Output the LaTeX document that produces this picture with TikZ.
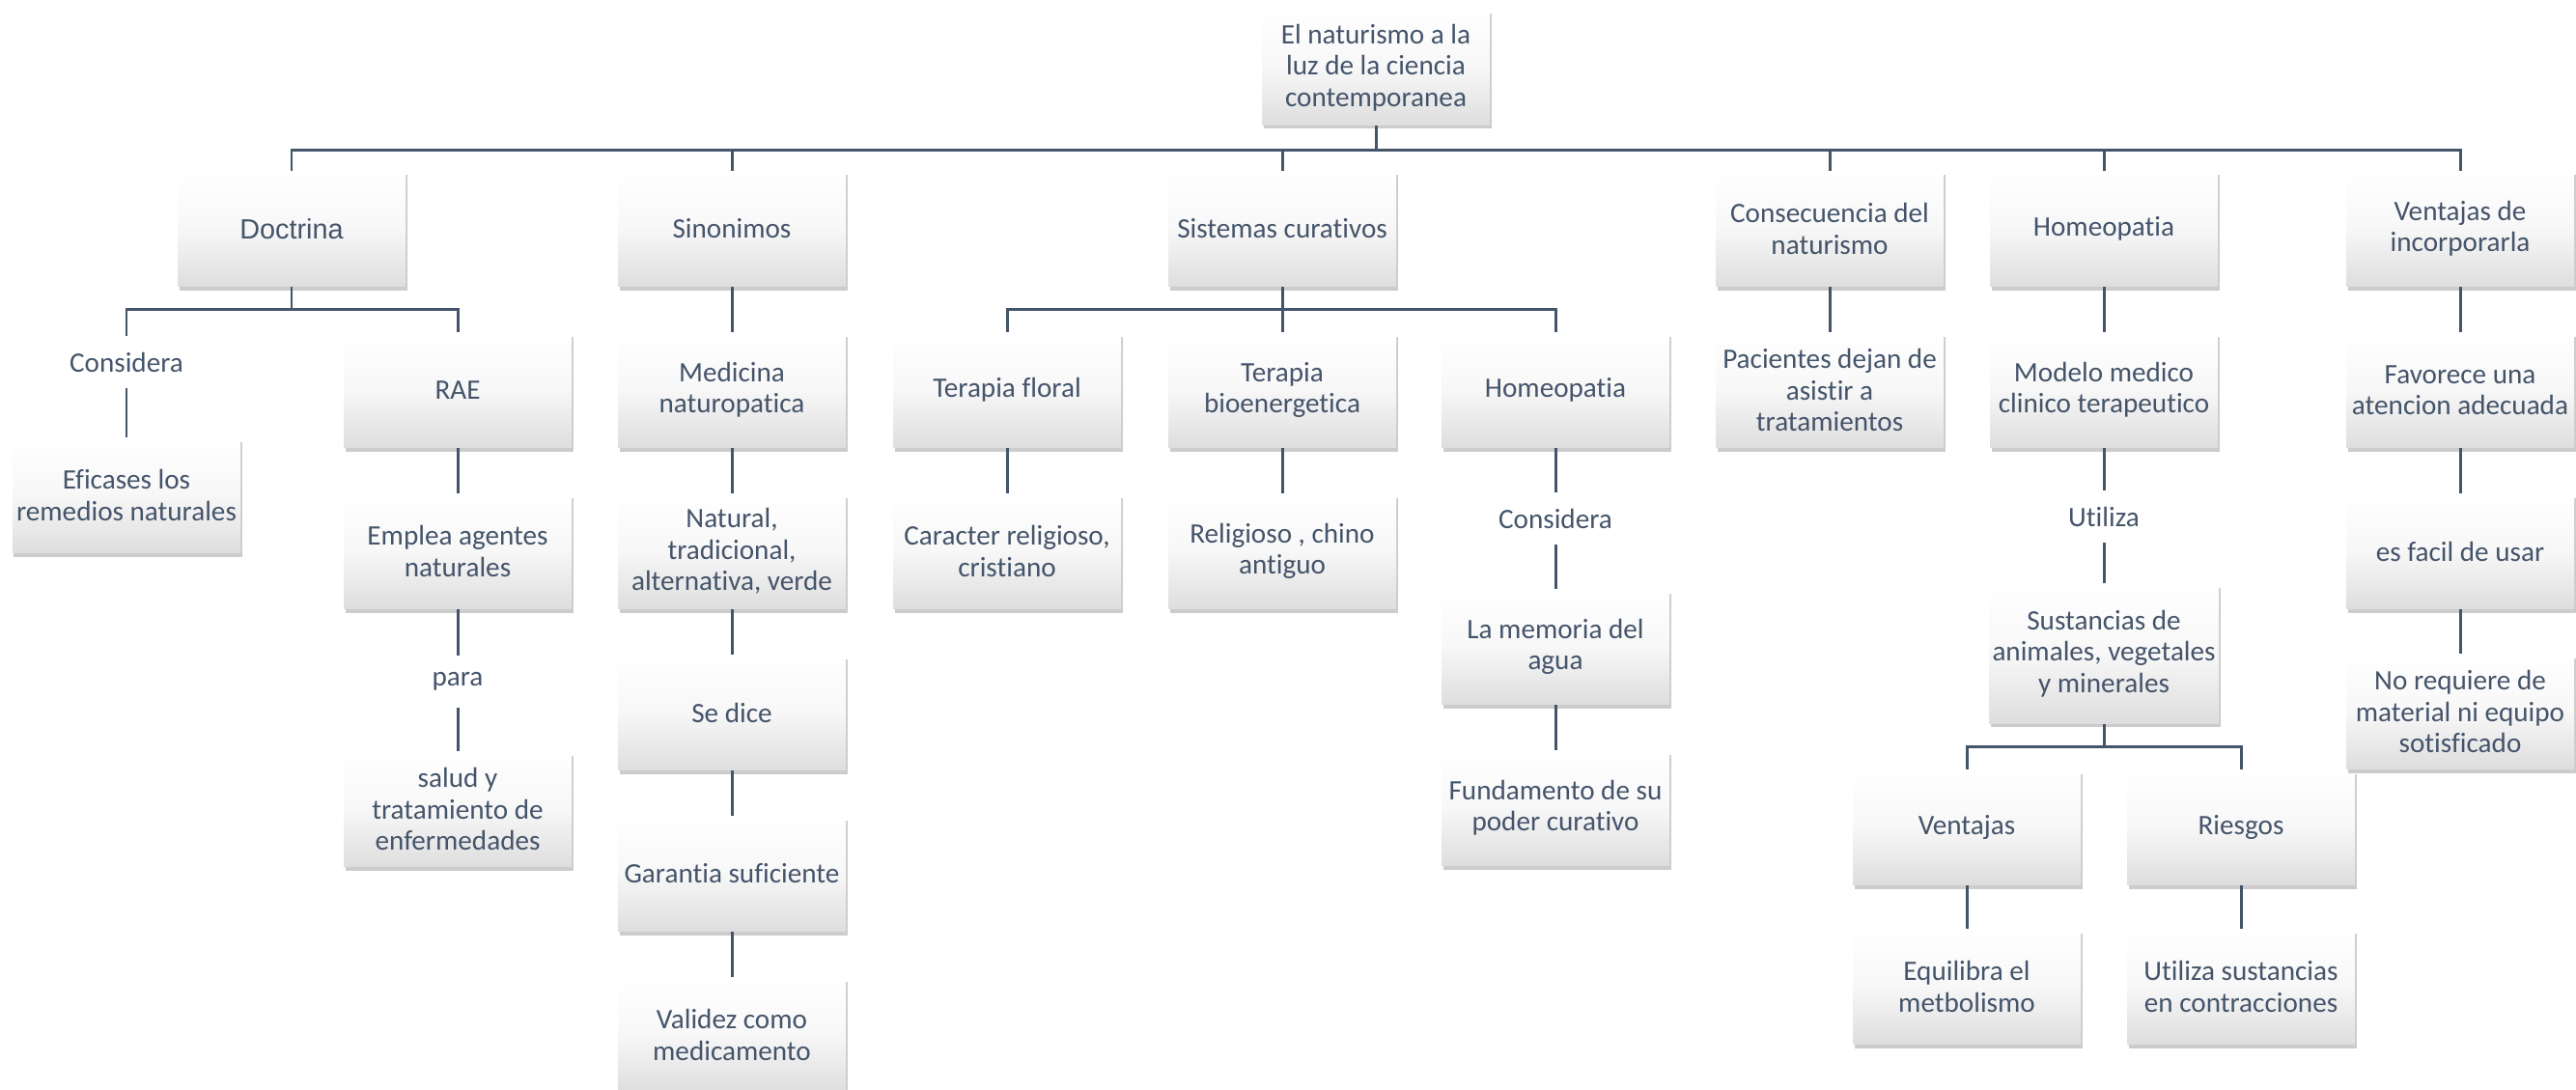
\documentclass[tikz,border=0pt]{standalone}
\usepackage{fontspec}
\setmainfont{Carlito}[Ligatures=NoCommon]
\newfontfamily\arialfont{Liberation Sans}
\usetikzlibrary{shadows}
\definecolor{LineaAzul}{HTML}{44546A}
\definecolor{TextoAzul}{HTML}{44546A}
\tikzset{
  caja/.style={rectangle, top color=white, bottom color=black!13, middle color=black!3,
    minimum width=2.36cm, minimum height=1.19cm, inner sep=1pt, align=center,
    text=TextoAzul, font=\fontsize{8.3}{9.2}\selectfont,
    drop shadow={opacity=0.4, shadow xshift=0.015cm, shadow yshift=-0.04cm}},
  etiqueta/.style={rectangle, minimum height=0.53cm, inner sep=0pt, text=TextoAzul,
    font=\fontsize{8.3}{9.2}\selectfont},
  conector/.style={-, draw=LineaAzul, line width=0.85pt}
}

\begin{document}
\begin{tikzpicture}
  \useasboundingbox (0, 0) rectangle (26.68, -11.29);
  \node[caja] (n0) at (14.25, -0.70) {El naturismo a la\\luz de la ciencia\\contemporanea};

  \node[caja, font=\arialfont\fontsize{8.2}{9.2}\selectfont] (n10) at (3.02, -2.37) {Doctrina};
  \draw[conector] (n0.south) -- ++(0, -0.25) -| (n10.north);
  \node[etiqueta] (n11) at (1.31, -3.75) {Considera};
  \draw[conector] (n10.south) -- ++(0, -0.23) -| (n11.north);
  \node[caja] (n12) at (1.31, -5.13) {Eficases los\\remedios naturales};
  \draw[conector] (n11) -- (n12);
  \node[caja] (n13) at (4.74, -4.04) {RAE};
  \draw[conector] (n10.south) -- ++(0, -0.23) -| (n13.north);
  \node[caja] (n14) at (4.74, -5.71) {Emplea agentes\\naturales};
  \draw[conector] (n13) -- (n14);
  \node[etiqueta] (n15) at (4.74, -7.06) {para};
  \draw[conector] (n14) -- (n15);
  \node[caja] (n16) at (4.74, -8.38) {salud y\\tratamiento de\\enfermedades};
  \draw[conector] (n15) -- (n16);

  \node[caja] (n20) at (7.58, -2.37) {Sinonimos};
  \draw[conector] (n0.south) -- ++(0, -0.25) -| (n20.north);
  \node[caja] (n21) at (7.58, -4.04) {Medicina\\naturopatica};
  \draw[conector] (n20) -- (n21);
  \node[caja] (n22) at (7.58, -5.71) {Natural,\\tradicional,\\alternativa, verde};
  \draw[conector] (n21) -- (n22);
  \node[caja] (n23) at (7.58, -7.38) {Se dice};
  \draw[conector] (n22) -- (n23);
  \node[caja] (n24) at (7.58, -9.05) {Garantia suficiente};
  \draw[conector] (n23) -- (n24);
  \node[caja] (n25) at (7.58, -10.72) {Validez como\\medicamento};
  \draw[conector] (n24) -- (n25);

  \node[caja] (n30) at (13.28, -2.37) {Sistemas curativos};
  \draw[conector] (n0.south) -- ++(0, -0.25) -| (n30.north);
  \node[caja] (n31) at (10.43, -4.04) {Terapia floral};
  \draw[conector] (n30.south) -- ++(0, -0.23) -| (n31.north);
  \node[caja] (n32) at (13.28, -4.04) {Terapia\\bioenergetica};
  \draw[conector] (n30) -- (n32);
  \node[caja] (n33) at (16.11, -4.04) {Homeopatia};
  \draw[conector] (n30.south) -- ++(0, -0.23) -| (n33.north);
  \node[caja] (n34) at (10.43, -5.71) {Caracter religioso,\\cristiano};
  \draw[conector] (n31) -- (n34);
  \node[caja] (n35) at (13.28, -5.71) {Religioso , chino\\antiguo};
  \draw[conector] (n32) -- (n35);
  \node[etiqueta] (n36) at (16.11, -5.37) {Considera};
  \draw[conector] (n33) -- (n36);
  \node[caja] (n37) at (16.11, -6.70) {La memoria del\\agua};
  \draw[conector] (n36) -- (n37);
  \node[caja] (n38) at (16.11, -8.37) {Fundamento de su\\poder curativo};
  \draw[conector] (n37) -- (n38);

  \node[caja] (n40) at (18.95, -2.37) {Consecuencia del\\naturismo};
  \draw[conector] (n0.south) -- ++(0, -0.25) -| (n40.north);
  \node[caja] (n41) at (18.95, -4.04) {Pacientes dejan de\\asistir a\\tratamientos};
  \draw[conector] (n40) -- (n41);

  \node[caja] (n50) at (21.79, -2.37) {Homeopatia};
  \draw[conector] (n0.south) -- ++(0, -0.25) -| (n50.north);
  \node[caja] (n51) at (21.79, -4.04) {Modelo medico\\clinico terapeutico};
  \draw[conector] (n50) -- (n51);
  \node[etiqueta] (n52) at (21.79, -5.35) {Utiliza};
  \draw[conector] (n51) -- (n52);
  \node[caja, minimum height=1.44cm] (n53) at (21.79, -6.77) {Sustancias de\\animales, vegetales\\y minerales};
  \draw[conector] (n52) -- (n53);
  \node[caja] (n54) at (20.37, -8.57) {Ventajas};
  \draw[conector] (n53.south) -- ++(0, -0.24) -| (n54.north);
  \node[caja] (n55) at (23.21, -8.57) {Riesgos};
  \draw[conector] (n53.south) -- ++(0, -0.24) -| (n55.north);
  \node[caja] (n56) at (20.37, -10.22) {Equilibra el\\metbolismo};
  \draw[conector] (n54) -- (n56);
  \node[caja] (n57) at (23.21, -10.22) {Utiliza sustancias\\en contracciones};
  \draw[conector] (n55) -- (n57);

  \node[caja] (n60) at (25.48, -2.37) {Ventajas de\\incorporarla};
  \draw[conector] (n0.south) -- ++(0, -0.25) -| (n60.north);
  \node[caja] (n61) at (25.48, -4.04) {Favorece una\\atencion adecuada};
  \draw[conector] (n60) -- (n61);
  \node[caja] (n62) at (25.48, -5.71) {es facil de usar};
  \draw[conector] (n61) -- (n62);
  \node[caja] (n63) at (25.48, -7.37) {No requiere de\\material ni equipo\\sotisficado};
  \draw[conector] (n62) -- (n63);
\end{tikzpicture}
\end{document}
